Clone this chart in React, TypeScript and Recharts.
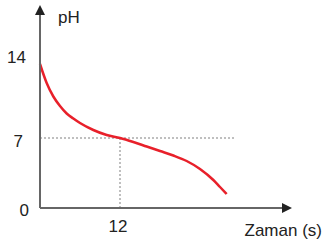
import { LineChart, Line, XAxis, YAxis, ReferenceLine } from 'recharts';

const times = [0, 1, 2, 3, 4, 5, 6, 8, 10, 12, 14, 16, 18, 20, 22, 24, 26, 27, 28];
const phValues = [14.4, 12.5, 11.15, 10.2, 9.45, 8.95, 8.5, 7.8, 7.3, 7.0, 6.6, 6.15, 5.7, 5.25, 4.7, 3.9, 2.8, 2.1, 1.4];
const yTicks = [0, 7, 14];
const xTicks = [12];
const eqTime = 12;
const eqPh = 7;
const guideEnd = 29.4;

const data = times.map((t, i) => ({ t, ph: phValues[i] }));

const FONT = 'Liberation Sans, Arial, Helvetica, sans-serif';
const TXT = '#222';

// small per-label nudges so the numbers sit like in the original
const yTickShift: Record<number, { dx: number; dy: number }> = {
  0: { dx: -3, dy: 2 },
  7: { dx: -9, dy: 3 },
  14: { dx: -6, dy: -11 },
};

const YTick = ({ x, y, payload }: any) => {
  const s = yTickShift[payload.value] ?? { dx: 0, dy: 0 };
  return (
    <text x={x + s.dx} y={y + s.dy} dy="0.35em" textAnchor="end" fill={TXT} fontSize={17} fontFamily={FONT}>
      {payload.value}
    </text>
  );
};

const XTick = ({ x, y, payload }: any) => (
  <text x={x - 2} y={y + 16} textAnchor="middle" fill={TXT} fontSize={17} fontFamily={FONT}>
    {payload.value}
  </text>
);

export default function App() {
  return (
    <div style={{ position: 'absolute', left: 0, top: 0, background: '#fff' }}>
      <LineChart width={324} height={244} data={data} margin={{ top: 15, right: 42, bottom: 0, left: 0 }}>
        <defs>
          <marker id="arrY" viewBox="0 0 10 10" refX="0" refY="5" markerWidth="5" markerHeight="5" orient="auto-start-reverse" markerUnits="strokeWidth">
            <path d="M0,0 L10,5 L0,10 Z" fill="#222" />
          </marker>
        </defs>
        <XAxis
          type="number"
          dataKey="t"
          domain={[0, 36.3]}
          ticks={xTicks}
          tick={<XTick />}
          tickLine={false}
          height={36}
          axisLine={{ stroke: '#666', strokeWidth: 2, markerEnd: 'url(#arrY)' } as any}
          label={{
            content: ({ viewBox }: any) => (
              <text x={viewBox.x + viewBox.width + 40} y={viewBox.y + 28} textAnchor="end" fill={TXT} fontSize={17} fontFamily={FONT}>
                Zaman (s)
              </text>
            ),
          }}
        />
        <YAxis
          type="number"
          domain={[0, 19.3]}
          ticks={yTicks}
          tick={<YTick />}
          tickLine={false}
          width={40}
          axisLine={{ stroke: '#666', strokeWidth: 2, markerStart: 'url(#arrY)' } as any}
          label={{
            content: ({ viewBox }: any) => (
              <text x={viewBox.x + viewBox.width + 18} y={viewBox.y + 8} fill={TXT} fontSize={17} fontFamily={FONT}>
                pH
              </text>
            ),
          }}
        />
        <ReferenceLine segment={[{ x: 0, y: eqPh }, { x: guideEnd, y: eqPh }]} stroke="#aaa" strokeWidth={1.5} strokeDasharray="2 2" />
        <ReferenceLine segment={[{ x: eqTime, y: 0 }, { x: eqTime, y: eqPh }]} stroke="#aaa" strokeWidth={1.5} strokeDasharray="2 2" />
        <Line type="monotone" dataKey="ph" stroke="#e8202a" strokeWidth={2.5} dot={false} isAnimationActive={false} />
      </LineChart>
    </div>
  );
}
